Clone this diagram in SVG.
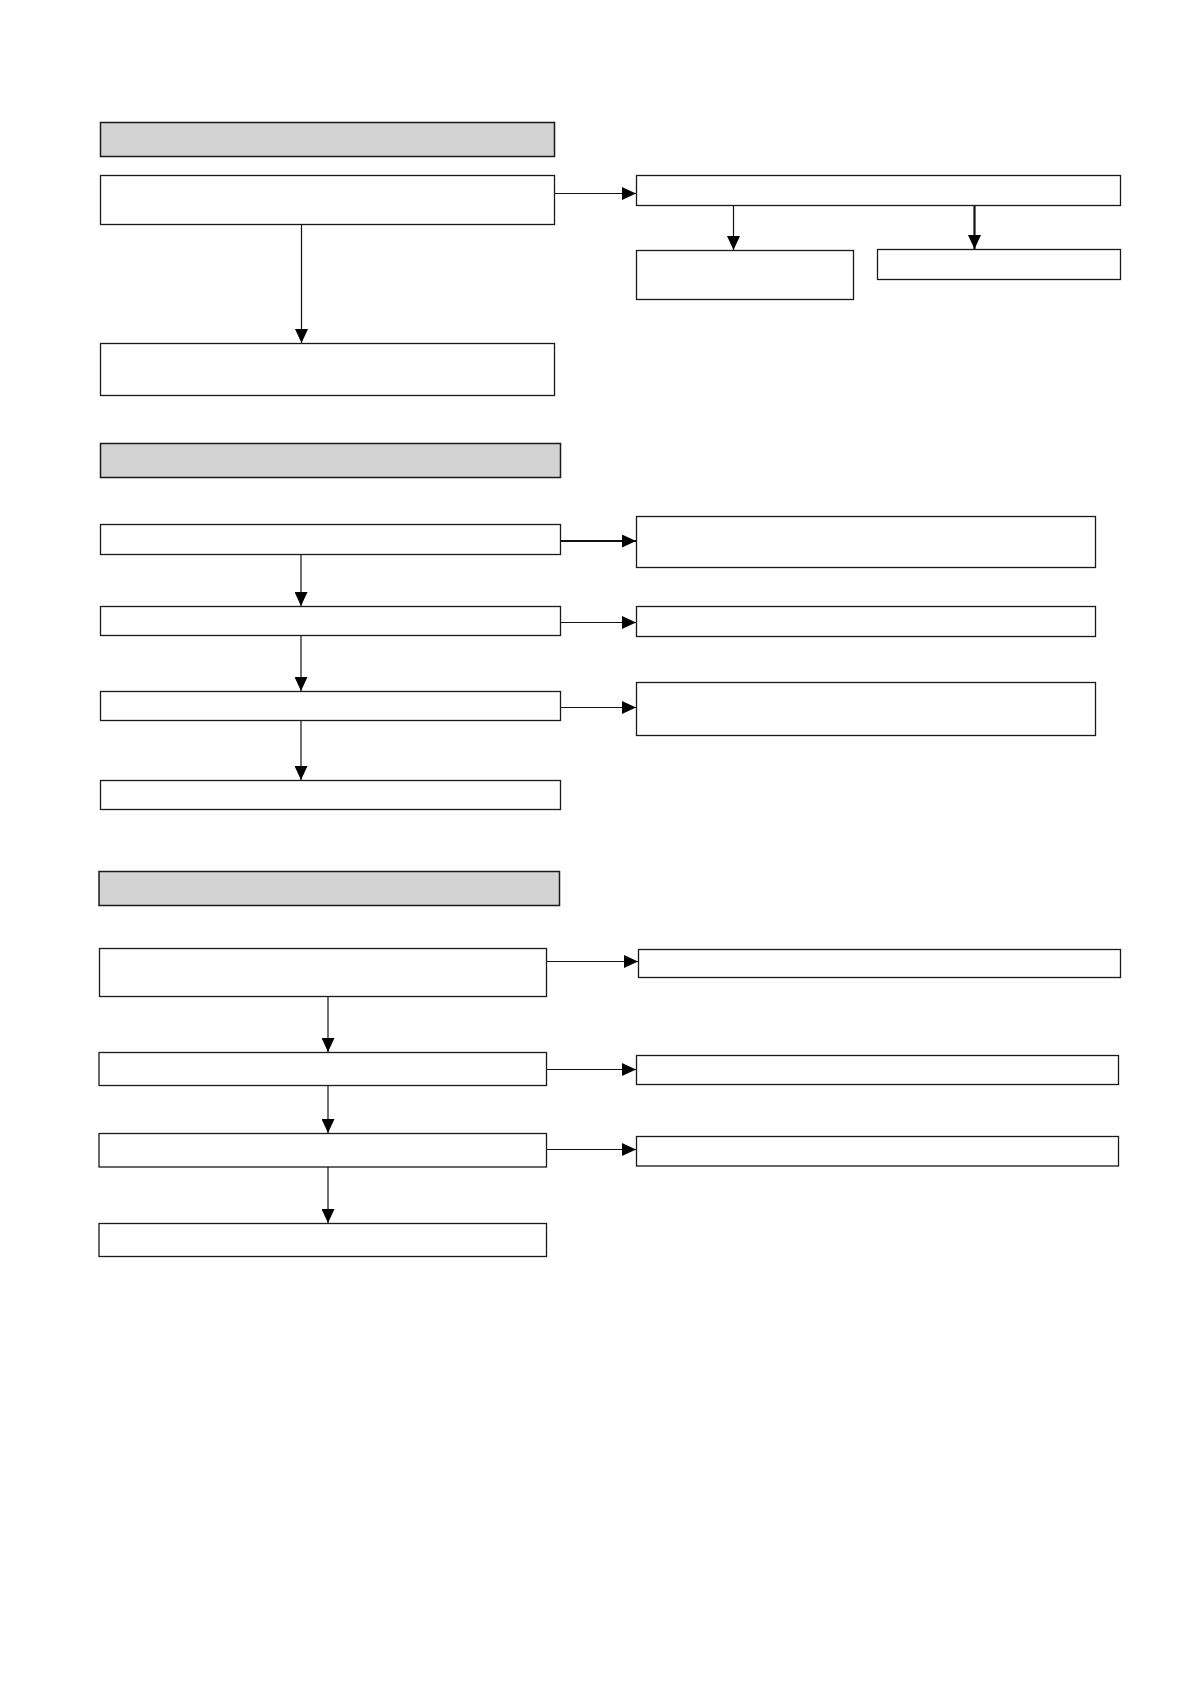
<svg xmlns="http://www.w3.org/2000/svg" width="1190" height="1684" viewBox="0 0 1190 1684">
<style>
.box{fill:#fff;stroke:#1a1a1a;stroke-width:1.3}
.hdr{fill:#d3d3d3;stroke:#1a1a1a;stroke-width:1.5}
.con{fill:none;stroke:#111;stroke-width:1.2;marker-end:url(#ah)}
.thick{stroke-width:2.2}
</style>
<defs>
<marker id="ah" markerUnits="userSpaceOnUse" markerWidth="14" markerHeight="13" refX="14" refY="6.5" orient="auto">
<path d="M0,0 L14,6.5 L0,13 z" fill="#000"/>
</marker>
</defs>
<rect width="1190" height="1684" fill="#fff"/>
<g id="header1"><rect class="hdr" x="100.5" y="122.5" width="454" height="34"/></g>
<g id="nodeA"><rect class="box" x="100.5" y="175.5" width="454" height="49"/></g>
<g id="nodeB"><rect class="box" x="100.5" y="343.5" width="454" height="52"/></g>
<g id="nodeC"><rect class="box" x="636.5" y="175.5" width="484" height="30"/></g>
<g id="nodeD"><rect class="box" x="636.5" y="250.5" width="217" height="49"/></g>
<g id="nodeE"><rect class="box" x="877.5" y="249.5" width="243" height="30"/></g>

<g id="header2"><rect class="hdr" x="100.5" y="443.5" width="460" height="34"/></g>
<g id="nodeF1"><rect class="box" x="100.5" y="524.5" width="460" height="30"/></g>
<g id="nodeF2"><rect class="box" x="100.5" y="606.5" width="460" height="29"/></g>
<g id="nodeF3"><rect class="box" x="100.5" y="691.5" width="460" height="29"/></g>
<g id="nodeF4"><rect class="box" x="100.5" y="780.5" width="460" height="29"/></g>
<g id="nodeG1"><rect class="box" x="636.5" y="516.5" width="459" height="51"/></g>
<g id="nodeG2"><rect class="box" x="636.5" y="606.5" width="459" height="30"/></g>
<g id="nodeG3"><rect class="box" x="636.5" y="682.5" width="459" height="53"/></g>

<g id="header3"><rect class="hdr" x="99" y="871.5" width="460.5" height="34"/></g>
<g id="nodeH1"><rect class="box" x="99.5" y="948.5" width="447" height="48"/></g>
<g id="nodeH2"><rect class="box" x="99" y="1052.5" width="447.5" height="33"/></g>
<g id="nodeH3"><rect class="box" x="99" y="1133.5" width="447.5" height="33.5"/></g>
<g id="nodeH4"><rect class="box" x="99" y="1223.5" width="447.5" height="33"/></g>
<g id="nodeI1"><rect class="box" x="638.5" y="949.5" width="482" height="28"/></g>
<g id="nodeI2"><rect class="box" x="636.5" y="1055.5" width="482" height="29"/></g>
<g id="nodeI3"><rect class="box" x="636.5" y="1136.5" width="482" height="29.5"/></g>

<g id="connectors">
<line class="con" x1="555" y1="193.5" x2="636" y2="193.5"/>
<line class="con" x1="301.5" y1="225" x2="301.5" y2="343"/>
<line class="con" x1="733.5" y1="206" x2="733.5" y2="250"/>
<line class="con thick" x1="974.5" y1="206" x2="974.5" y2="249"/>

<line class="con thick" x1="561" y1="541" x2="636" y2="541"/>
<line class="con" x1="561" y1="622.5" x2="636" y2="622.5"/>
<line class="con" x1="561" y1="707.5" x2="636" y2="707.5"/>
<line class="con" x1="301" y1="555" x2="301" y2="606"/>
<line class="con" x1="301" y1="636" x2="301" y2="691"/>
<line class="con" x1="301" y1="721" x2="301" y2="780"/>

<line class="con" x1="547" y1="961.5" x2="638" y2="961.5"/>
<line class="con" x1="547" y1="1069.5" x2="636" y2="1069.5"/>
<line class="con" x1="547" y1="1149.5" x2="636" y2="1149.5"/>
<line class="con" x1="328" y1="997" x2="328" y2="1052"/>
<line class="con" x1="328" y1="1086" x2="328" y2="1133"/>
<line class="con" x1="328" y1="1167" x2="328" y2="1223"/>
</g>
</svg>
